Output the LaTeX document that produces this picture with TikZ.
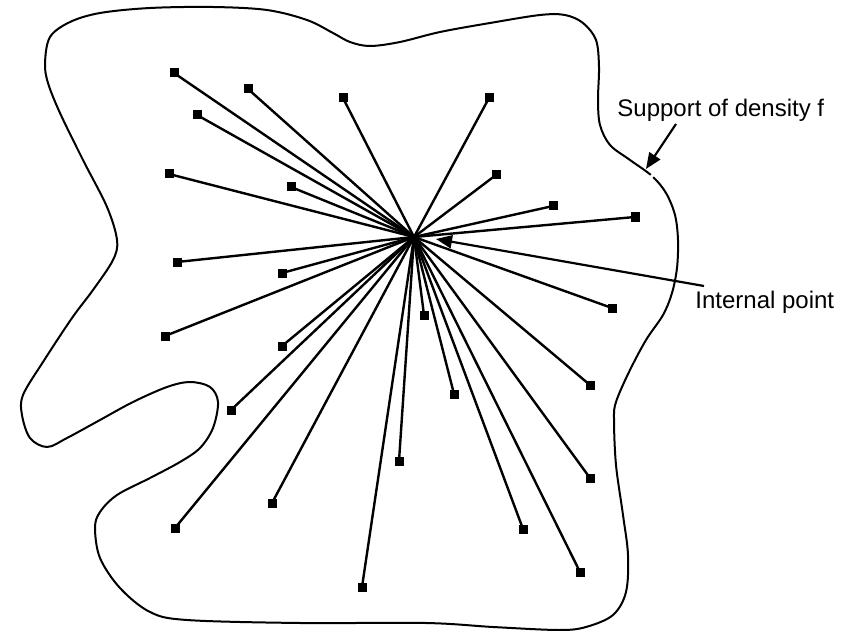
\documentclass[tikz,border=0pt]{standalone}
\usepackage{fontspec}
\setmainfont{Liberation Sans}
\usetikzlibrary{arrows.meta}
\begin{document}
\begin{tikzpicture}[x=0.5pt,y=-0.5pt,
  pt/.style={fill=black,draw=none,minimum size=4.5pt,inner sep=0pt,shape=rectangle},
  ray/.style={line width=1.2pt},
  outline/.style={line width=1pt},
  lbl/.style={font=\fontsize{12}{14}\selectfont,inner sep=0pt},
  pointer/.style={line width=1.1pt,-{Triangle[length=8pt,width=6.5pt]}}]
\useasboundingbox (0,0) rectangle (852,631);
\draw[outline] plot[smooth cycle,tension=0.55] coordinates {
 (45,63) (50,37) (70,22) (100,13) (150,8) (213,7) (267,10) (307,20) (333,33)
 (350,42) (370,46) (400,42) (440,32) (490,23) (540,15) (565,15) (583,23)
 (596,40) (599,67) (598,100) (600,125) (610,145) (630,160) (652,176) (666,193)
 (675,215) (678,240) (677,268) (672,293) (663,315) (646,340) (629,372) (616,402)
 (614,420) (616,465) (623,515) (628,555) (626,592) (613,615) (586,627) (559,630)
 (493,627) (426,623) (300,623) (187,620) (150,612) (120,588) (100,558) (95,528)
 (100,512) (117,495) (150,478) (180,462) (200,448) (213,428) (218,402) (210,387)
 (190,382) (167,387) (133,402) (100,420) (67,438) (47,447) (30,438) (22,415)
 (23,395) (43,362) (72,318) (93,290) (113,260) (117,240) (107,207) (83,160)
 (60,113) (48,83)};
\draw[white,line width=1.5pt] (648,180) -- (656,172);
\coordinate (c) at (414,237);
\foreach \n/\x/\y in {1/174/73, 2/248/89, 3/197/115, 4/343/98, 5/169/174,
  6/291/187, 7/177/262, 8/282/273, 9/489/98, 10/496/175, 11/553/206,
  12/635/217, 13/612/308, 14/165/336, 15/282/346, 16/231/410, 17/175/528,
  18/272/503, 19/362/587, 20/399/461, 21/424/315, 22/590/385, 23/454/394,
  24/590/478, 25/523/529, 26/580/572} {
  \node[pt] (p\n) at (\x,\y) {};
  \draw[ray] (c) -- (p\n.center);
}
\node[lbl,anchor=base west] (sup) at (617,117) {Support of density f};
\node[lbl,anchor=base west] (int) at (695,308) {Internal point};
\coordinate (supA) at (676,124);
\coordinate (supT) at (646,169);
\draw[pointer] (supA) -- (supT);
\coordinate (intA) at (704,286);
\coordinate (intT) at (436,239);
\draw[pointer] (intA) -- (intT);
\end{tikzpicture}
\end{document}
